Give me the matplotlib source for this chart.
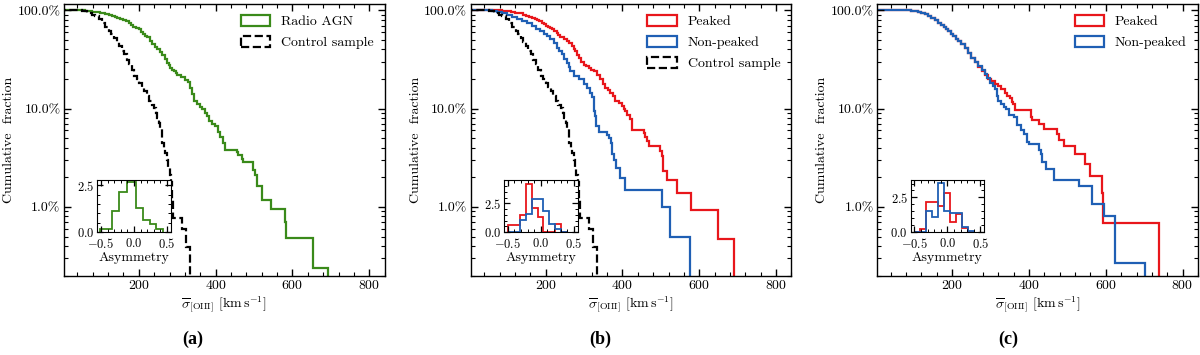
import matplotlib
matplotlib.use('Agg')
import matplotlib.pyplot as plt
from matplotlib.patches import Patch
from matplotlib.ticker import MultipleLocator, AutoMinorLocator, PercentFormatter, LogLocator, NullFormatter

plt.rcParams['font.family'] = ['cmr10', 'DejaVu Serif']
plt.rcParams['mathtext.fontset'] = 'cm'
plt.rcParams['axes.formatter.use_mathtext'] = True

GREEN = '#3a8a1a'
RED = '#e8161b'
BLUE = '#1f5fb4'

# complementary cumulative curves: step edges [km/s] and fraction above
ctrl_edges = [0, 53, 66, 78, 87, 96, 105, 113, 122, 128, 135, 142, 148, 155, 161, 168, 174, 181,
              187, 194, 200, 207, 213, 220, 226, 233, 239, 244, 248, 252, 256, 261, 265, 269, 273,
              277, 280, 283, 287, 290, 312, 323, 334]
ctrl_frac = [1.0, 0.975, 0.946, 0.905, 0.873, 0.81, 0.75, 0.68, 0.615, 0.57, 0.526, 0.475, 0.432,
             0.39, 0.356, 0.315, 0.282, 0.245, 0.214, 0.198, 0.184, 0.166, 0.151, 0.134, 0.119,
             0.110, 0.102, 0.090, 0.081, 0.071, 0.062, 0.045, 0.040, 0.035, 0.030, 0.0255, 0.021,
             0.018, 0.0117, 0.0077, 0.0059, 0.0039]

radio_edges = [0, 60, 70, 79, 90, 100, 107, 113, 122, 130, 137, 143, 152, 160, 167, 174, 180, 186,
               193, 200, 206, 212, 217, 222, 228, 235, 241, 248, 254, 261, 267, 273, 278, 282, 287,
               291, 296, 300, 310, 321, 327, 334, 338, 343, 352, 359, 365, 372, 377, 382, 390, 399,
               405, 411, 418, 424, 455, 459, 468, 472, 498, 502, 508, 520, 543, 580, 583, 654, 693]
radio_frac = [1.0, 0.995, 0.985, 0.97, 0.955, 0.94, 0.93, 0.92, 0.90, 0.88, 0.86, 0.84, 0.815,
              0.79, 0.77, 0.75, 0.715, 0.68, 0.66, 0.64, 0.60, 0.57, 0.55, 0.53, 0.49, 0.45, 0.425,
              0.40, 0.375, 0.35, 0.32, 0.29, 0.275, 0.26, 0.25, 0.24, 0.23, 0.22, 0.21, 0.196,
              0.186, 0.163, 0.142, 0.120, 0.112, 0.104, 0.100, 0.090, 0.085, 0.075, 0.070, 0.066,
              0.058, 0.051, 0.045, 0.038, 0.036, 0.0335, 0.031, 0.0286, 0.024, 0.021, 0.0165,
              0.0119, 0.0095, 0.0071, 0.0048, 0.0024]

peak_b_edges = [0, 87, 98, 110, 120, 130, 140, 150, 157, 164, 171, 178, 184, 190, 196, 202, 207,
                212, 217, 222, 229, 233, 238, 247, 255, 262, 268, 273, 277, 282, 286, 292, 299, 305,
                312, 318, 325, 333, 342, 349, 355, 362, 368, 375, 381, 392, 399, 403, 407, 412, 420,
                425, 455, 459, 464, 468, 498, 503, 505, 517, 543, 579, 650, 691]
peak_b_frac = [1.0, 0.99, 0.98, 0.97, 0.95, 0.93, 0.905, 0.88, 0.86, 0.84, 0.815, 0.79, 0.77, 0.75,
               0.725, 0.70, 0.68, 0.665, 0.64, 0.62, 0.59, 0.56, 0.53, 0.51, 0.49, 0.46, 0.43,
               0.405, 0.385, 0.355, 0.33, 0.30, 0.28, 0.27, 0.26, 0.25, 0.24, 0.22, 0.20, 0.18,
               0.163, 0.155, 0.145, 0.133, 0.121, 0.115, 0.107, 0.100, 0.094, 0.086, 0.079, 0.0607,
               0.056, 0.0514, 0.0467, 0.042, 0.0374, 0.0327, 0.0234, 0.0187, 0.014, 0.0093, 0.0047]

nonpeak_b_edges = [0, 60, 74, 87, 100, 112, 125, 138, 151, 164, 175, 186, 195, 203, 212, 221, 229,
                   236, 242, 249, 255, 260, 264, 273, 286, 299, 307, 316, 322, 325, 329, 332, 338,
                   360, 364, 369, 373, 377, 384, 394, 406, 503, 524, 576]
nonpeak_b_frac = [1.0, 0.99, 0.97, 0.95, 0.905, 0.86, 0.82, 0.78, 0.735, 0.69, 0.65, 0.615, 0.58,
                  0.547, 0.505, 0.468, 0.416, 0.385, 0.356, 0.32, 0.29, 0.265, 0.241, 0.215, 0.20,
                  0.177, 0.163, 0.145, 0.13, 0.094, 0.084, 0.067, 0.058, 0.0545, 0.05, 0.0445,
                  0.0347, 0.0297, 0.0248, 0.0198, 0.0149, 0.0099, 0.00495]

peak_c_edges = [0, 94, 102, 110, 120, 129, 137, 145, 155, 164, 171, 178, 184, 190, 197, 203, 210,
                216, 224, 233, 242, 250, 259, 268, 277, 285, 294, 302, 311, 320, 328, 337, 344, 350,
                355, 359, 363, 404, 409, 426, 439, 474, 478, 491, 521, 547, 558, 591, 593, 738]
peak_c_frac = [1.0, 0.99, 0.98, 0.97, 0.94, 0.91, 0.87, 0.83, 0.79, 0.75, 0.715, 0.68, 0.645,
               0.615, 0.58, 0.55, 0.515, 0.486, 0.45, 0.416, 0.37, 0.33, 0.30, 0.265, 0.24, 0.22,
               0.20, 0.191, 0.18, 0.17, 0.157, 0.145, 0.136, 0.129, 0.118, 0.111, 0.0965, 0.0828,
               0.0759, 0.069, 0.062, 0.0552, 0.0483, 0.0414, 0.0345, 0.0276, 0.0207, 0.0138, 0.0069]

nonpeak_c_edges = [0, 94, 102, 110, 120, 129, 137, 145, 155, 164, 171, 178, 184, 190, 197, 203, 210,
                   216, 224, 233, 242, 250, 259, 268, 277, 285, 291, 298, 305, 311, 316, 320, 328,
                   335, 341, 348, 361, 368, 378, 387, 394, 400, 426, 430, 435, 443, 465, 530, 565,
                   595, 625, 703]
nonpeak_c_frac = [1.0, 0.99, 0.98, 0.97, 0.94, 0.91, 0.87, 0.83, 0.79, 0.75, 0.715, 0.68, 0.645,
                  0.615, 0.58, 0.55, 0.515, 0.486, 0.45, 0.416, 0.37, 0.33, 0.30, 0.27, 0.245,
                  0.223, 0.203, 0.184, 0.17, 0.157, 0.135, 0.121, 0.112, 0.104, 0.100, 0.086,
                  0.082, 0.068, 0.060, 0.0557, 0.046, 0.0441, 0.038, 0.0349, 0.0284, 0.0243,
                  0.0189, 0.0162, 0.0108, 0.0081, 0.0027]

# asymmetry histograms (insets), density
asym_a_edges = [-0.52, -0.34, -0.225, -0.113, 0.03, 0.138, 0.235, 0.33, 0.44]
asym_a = [0.16, 1.15, 2.14, 2.68, 1.3, 0.65, 0.44, 0.16]

asym_bc_edges = [-0.5, -0.41, -0.32, -0.23, -0.14, -0.05, 0.04, 0.13, 0.22, 0.31, 0.40]
asym_b_peak = [0.63, 0.63, 1.49, 4.22, 2.12, 1.34, 0.0, 0.0, 0.68, 0.0]
asym_b_nonpeak = [0.0, 0.0, 1.06, 1.62, 2.9, 2.9, 1.8, 0.7, 0.26, 0.0]
asym_c_peak = [0.0, 0.21, 2.19, 2.19, 1.88, 2.85, 0.76, 1.3, 0.29, 0.0]
asym_c_nonpeak = [0.0, 0.0, 1.5, 1.1, 3.55, 1.55, 1.36, 1.36, 0.35, 0.11]

XLABEL = r'$\overline{\sigma}_{\rm [OIII]}$ [km$\,$s$^{-1}$]'
YLABEL = 'Cumulative  fraction'


def style_main(ax):
    ax.set_yscale('log')
    ax.set_xlim(5, 840)
    ax.set_ylim(0.002, 1.16)
    ax.xaxis.set_major_locator(MultipleLocator(200))
    ax.xaxis.set_minor_locator(AutoMinorLocator(5))
    ax.yaxis.set_major_locator(LogLocator(base=10, numticks=10))
    ax.yaxis.set_minor_locator(LogLocator(base=10, subs=range(2, 10), numticks=20))
    ax.yaxis.set_major_formatter(PercentFormatter(1.0, decimals=1))
    ax.yaxis.set_minor_formatter(NullFormatter())
    ax.tick_params(which='both', direction='in', top=True, right=True, labelsize=10)
    ax.tick_params(which='major', length=5, width=1, pad=2.5)
    ax.tick_params(which='minor', length=3, width=0.8)
    for sp in ax.spines.values():
        sp.set_linewidth(1.0)
    ax.set_xlabel(XLABEL, fontsize=10, labelpad=1.5)
    ax.set_ylabel(YLABEL, fontsize=10, labelpad=2)


def style_inset(ax, ymax):
    ax.set_xlim(-0.555, 0.555)
    ax.set_ylim(0, ymax)
    ax.xaxis.set_major_locator(MultipleLocator(0.5))
    ax.xaxis.set_minor_locator(MultipleLocator(0.1))
    ax.yaxis.set_major_locator(MultipleLocator(2.5))
    ax.yaxis.set_minor_locator(MultipleLocator(0.5))
    ax.tick_params(which='both', direction='in', top=True, right=True, labelsize=9)
    ax.tick_params(axis='x', which='major', pad=3.5)
    ax.tick_params(axis='y', which='major', pad=2)
    ax.tick_params(which='major', length=4, width=0.9)
    ax.tick_params(which='minor', length=2.5, width=0.7)
    ax.set_xlabel('Asymmetry', fontsize=10, labelpad=0.5)


def legend(ax, entries):
    handles = [Patch(facecolor='none', edgecolor=c, lw=1.6, ls=ls) for c, ls, _ in entries]
    labels = [lab for _, _, lab in entries]
    ax.legend(handles, labels, loc='upper right', frameon=False, fontsize=10,
              handlelength=2.1, handleheight=0.85, borderaxespad=0.4, labelspacing=0.55)


fig = plt.figure(figsize=(12, 3.55), dpi=100)
W, H = 0.2672, 0.7654
lefts = [0.0533, 0.3923, 0.7311]
axes = [fig.add_axes([l, 0.2234, W, H]) for l in lefts]
LW = 1.6
INSET = [0.104, 0.160, 0.229, 0.191]

# (a)
ax = axes[0]
ax.stairs(radio_frac, radio_edges, baseline=0, color=GREEN, lw=LW)
ax.stairs(ctrl_frac, ctrl_edges, baseline=0, color='k', lw=LW, ls='--')
style_main(ax)
legend(ax, [(GREEN, '-', 'Radio AGN'), ('k', '--', 'Control sample')])
ins = ax.inset_axes(INSET)
ins.stairs(asym_a, asym_a_edges, color=GREEN, lw=1.3)
style_inset(ins, 2.77)

# (b)
ax = axes[1]
ax.stairs(peak_b_frac, peak_b_edges, baseline=0, color=RED, lw=LW)
ax.stairs(nonpeak_b_frac, nonpeak_b_edges, baseline=0, color=BLUE, lw=LW)
ax.stairs(ctrl_frac, ctrl_edges, baseline=0, color='k', lw=LW, ls='--')
style_main(ax)
legend(ax, [(RED, '-', 'Peaked'), (BLUE, '-', 'Non-peaked'), ('k', '--', 'Control sample')])
ins = ax.inset_axes(INSET)
ins.stairs(asym_b_peak, asym_bc_edges, color=RED, lw=1.3)
ins.stairs(asym_b_nonpeak, asym_bc_edges, color=BLUE, lw=1.3)
style_inset(ins, 4.5)

# (c)
ax = axes[2]
ax.stairs(peak_c_frac, peak_c_edges, baseline=0, color=RED, lw=LW)
ax.stairs(nonpeak_c_frac, nonpeak_c_edges, baseline=0, color=BLUE, lw=LW)
style_main(ax)
legend(ax, [(RED, '-', 'Peaked'), (BLUE, '-', 'Non-peaked')])
ins = ax.inset_axes(INSET)
ins.stairs(asym_c_peak, asym_bc_edges, color=RED, lw=1.3)
ins.stairs(asym_c_nonpeak, asym_bc_edges, color=BLUE, lw=1.3)
style_inset(ins, 3.73)

for x, lab in zip([0.1604, 0.5, 0.84], ['(a)', '(b)', '(c)']):
    fig.text(x, 0.045, lab, ha='center', va='center', fontsize=13, fontweight='bold',
             family='Liberation Serif')

fig.savefig('out.png', dpi=100)
